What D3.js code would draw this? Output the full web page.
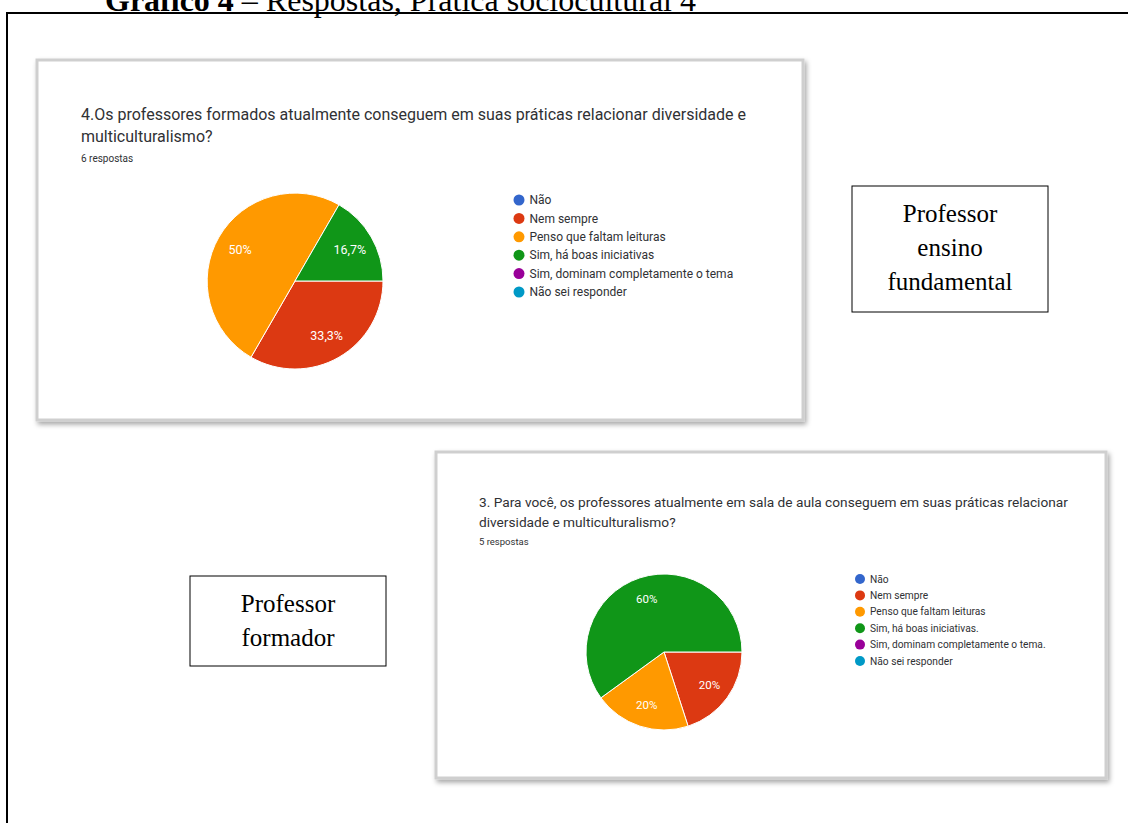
<!DOCTYPE html>
<html><head><meta charset="utf-8">
<script src="https://cdnjs.cloudflare.com/ajax/libs/d3/7.8.5/d3.min.js"></script>
<style>body{margin:0;background:#fff}svg{display:block}</style>
</head><body>
<script>
const categories = ["Não","Nem sempre","Penso que faltam leituras","Sim, há boas iniciativas","Sim, dominam completamente o tema","Não sei responder"];
const categories2 = ["Não","Nem sempre","Penso que faltam leituras","Sim, há boas iniciativas.","Sim, dominam completamente o tema.","Não sei responder"];
const colors = ["#3366cc","#dc3912","#ff9900","#109618","#990099","#0099c6"];
const valuesFundamental = [0,2,3,1,0,0];   // 6 respostas
const valuesFormador = [0,1,1,3,0,0];      // 5 respostas
const labelsFundamental = ["","33,3%","50%","16,7%","",""];
const labelsFormador = ["","20%","20%","60%","",""];
const title1 = ["4.Os professores formados atualmente conseguem em suas práticas relacionar diversidade e","multiculturalismo?"];
const title2 = ["3. Para você, os professores atualmente em sala de aula conseguem em suas práticas relacionar","diversidade e multiculturalismo?"];

const W=1128,H=823;
const svg=d3.select("body").append("svg").attr("width",W).attr("height",H);
const defs=svg.append("defs");
const f=defs.append("filter").attr("id","sh").attr("x","-5%").attr("y","-5%").attr("width","110%").attr("height","115%");
f.append("feDropShadow").attr("dx",2).attr("dy",3).attr("stdDeviation",2.5).attr("flood-color","#000").attr("flood-opacity",0.35);

// page title (partially cut at top, as in the reference)
const t=svg.append("text").attr("x",105).attr("y",11).attr("font-family","Liberation Serif, Times New Roman, serif").attr("font-size",32).attr("fill","#000");
t.append("tspan").attr("font-weight","bold").text("Gráfico 4");
t.append("tspan").text(" – Respostas, Prática sociocultural 4");

// outer frame
svg.append("path").attr("d",`M7,${H+5} L7,13 L${W+5},13`).attr("fill","none").attr("stroke","#000").attr("stroke-width",2);

function card(o){
  const g=svg.append("g");
  g.append("rect").attr("x",o.x).attr("y",o.y).attr("width",o.w).attr("height",o.h)
    .attr("fill","#fff").attr("stroke","#cfcfcf").attr("stroke-width",3).attr("filter","url(#sh)");
  o.title.forEach((s,i)=>g.append("text").attr("x",o.tx).attr("y",o.ty+i*o.tl)
    .attr("font-family","Roboto, Arial, sans-serif").attr("font-size",o.tf).attr("fill","#303134").text(s));
  g.append("text").attr("x",o.tx).attr("y",o.ry).attr("font-family","Roboto, Arial, sans-serif")
    .attr("font-size",o.rf).attr("fill","#303134").text(o.resp);
  const pie=d3.pie().sort(null).value(d=>d.v).startAngle(Math.PI/2).endAngle(Math.PI/2+2*Math.PI);
  const data=o.values.map((v,i)=>({v,i,label:o.labels[i]}));
  const arcs=pie(data).filter(d=>d.data.v>0);
  const arc=d3.arc().innerRadius(0).outerRadius(o.r);
  const la=d3.arc().innerRadius(o.r*0.72).outerRadius(o.r*0.72);
  const pg=g.append("g").attr("transform",`translate(${o.cx},${o.cy})`);
  pg.selectAll("path").data(arcs).join("path").attr("d",arc)
    .attr("fill",d=>colors[d.data.i]).attr("stroke","#fff").attr("stroke-width",1);
  pg.selectAll("text").data(arcs).join("text")
    .attr("transform",d=>`translate(${la.centroid(d)})`).attr("text-anchor","middle").attr("dy","0.35em")
    .attr("font-family","Roboto, Arial, sans-serif").attr("font-size",o.pf).attr("fill","#fff").text(d=>d.data.label);
  const y=d3.scalePoint().domain(d3.range(o.cats.length)).range([o.ly0,o.ly1]);
  const lg=g.append("g");
  o.cats.forEach((c,i)=>{
    lg.append("circle").attr("cx",o.lx).attr("cy",y(i)).attr("r",o.cr).attr("fill",colors[i]);
    lg.append("text").attr("x",o.lx+o.cr+5).attr("y",y(i)).attr("dy","0.35em")
      .attr("font-family","Roboto, Arial, sans-serif").attr("font-size",o.lf).attr("fill","#303134").text(c);
  });
}

card({x:37,y:60,w:766,h:360,title:title1,tx:81,ty:120,tl:22,tf:16,ry:162,rf:10,resp:"6 respostas",
  values:valuesFundamental,labels:labelsFundamental,cx:295,cy:281,r:88,pf:12.5,
  cats:categories,lx:519,ly0:200,ly1:292,cr:5.5,lf:12});
card({x:436,y:452,w:670,h:326,title:title2,tx:479,ty:507,tl:20,tf:13.7,ry:545,rf:9.5,resp:"5 respostas",
  values:valuesFormador,labels:labelsFormador,cx:664,cy:652,r:78,pf:11.5,
  cats:categories2,lx:860,ly0:579,ly1:661,cr:5,lf:10.2});

function box(x,y,w,h,lines,y0,dl){
  svg.append("rect").attr("x",x).attr("y",y).attr("width",w).attr("height",h).attr("fill","#fff").attr("stroke","#000").attr("stroke-width",1);
  lines.forEach((s,i)=>svg.append("text").attr("x",x+w/2).attr("y",y0+i*dl).attr("text-anchor","middle")
    .attr("font-family","Liberation Serif, Times New Roman, serif").attr("font-size",25).attr("fill","#000").text(s));
}
box(852,186,196,126,["Professor","ensino","fundamental"],222,34);
box(190,576,196,90,["Professor","formador"],612,34);
</script>
</body></html>
